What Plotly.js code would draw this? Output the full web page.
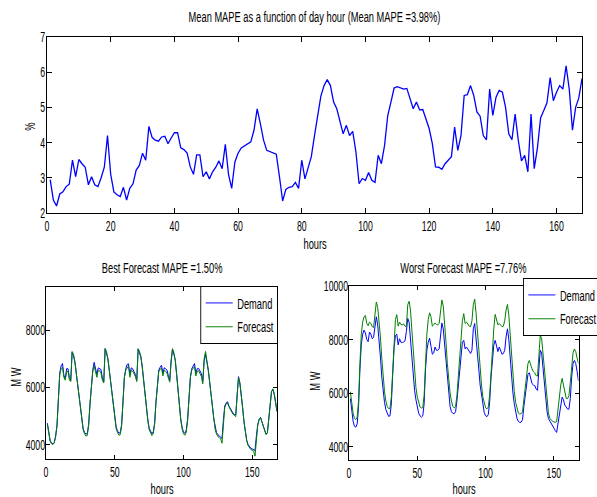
<!DOCTYPE html>
<html>
<head>
<meta charset="utf-8">
<script src="https://cdn.plot.ly/plotly-3.0.1.min.js"></script>
<style>
  html, body { margin: 0; padding: 0; background: #fff; }
  #chart { width: 597px; height: 497px; }
</style>
</head>
<body>
<div id="chart"></div>
<script>
// ---- data ----
const hours = Array.from({ length: 168 }, (_, i) => i + 1);

const meanMape = [
  2.95, 2.37, 2.2, 2.54, 2.6, 2.75, 2.82, 3.5, 3.03, 3.52,
  3.4, 3.3, 2.8, 3.03, 2.8, 2.75, 3.0, 3.3, 4.2, 3.1,
  2.6, 2.52, 2.47, 2.73, 2.37, 2.7, 2.83, 3.22, 3.35, 3.7,
  3.5, 4.46, 4.15, 4.07, 4.04, 4.16, 4.18, 3.97, 4.13, 4.28,
  4.28, 3.85, 3.8, 3.7, 3.31, 3.1, 3.65, 3.65, 3.03, 3.17,
  2.97, 3.17, 3.3, 3.48, 3.26, 3.95, 3.1, 2.7, 3.45, 3.7,
  3.85, 3.9, 3.97, 4.02, 4.35, 4.96, 4.54, 4.07, 3.78, 3.74,
  3.72, 3.67, 3.03, 2.34, 2.67, 2.73, 2.75, 2.87, 2.7, 3.5,
  2.97, 3.26, 3.6, 4.2, 4.77, 5.32, 5.62, 5.79, 5.62, 5.15,
  4.96, 4.63, 4.25, 4.49, 4.2, 4.32, 3.74, 2.83, 2.98, 2.93,
  3.15, 2.93, 2.87, 3.64, 3.4, 3.92, 4.77, 5.15, 5.55, 5.59,
  5.55, 5.52, 5.54, 5.24, 4.96, 5.15, 4.93, 4.94, 4.68, 4.4,
  3.97, 3.31, 3.3, 3.24, 3.4, 3.5, 3.6, 4.44, 3.78, 4.2,
  5.34, 5.36, 5.62, 5.34, 4.87, 4.75, 4.2, 4.08, 5.52, 4.77,
  5.29, 5.48, 5.43, 5.0, 4.25, 4.08, 4.81, 4.06, 3.48, 3.64,
  3.17, 4.81, 3.26, 3.85, 4.7, 4.91, 5.13, 5.85, 5.19, 5.43,
  5.62, 5.52, 6.18, 5.52, 4.35, 5.0, 5.27, 5.82
];

const bestDemand = [
  4750, 4400, 4150, 4050, 4030, 4080, 4300, 4650, 5650, 6500, 6750, 6830, 6420, 6300, 6650, 6650, 6350, 6250, 7230, 7100, 6880, 6500, 6100, 5730,
  5250, 4820, 4560, 4430, 4370, 4390, 4700, 5400, 6100, 6600, 6870, 6600, 6450, 6680, 6660, 6620, 6330, 6200, 7350, 7200, 7000, 6600, 6200, 5850,
  5400, 4950, 4620, 4480, 4400, 4420, 4700, 5500, 6350, 6650, 6800, 6820, 6430, 6680, 6650, 6550, 6450, 6250, 7330, 7200, 7050, 6700, 6200, 5700,
  5250, 4900, 4580, 4440, 4380, 4450, 4750, 5500, 6080, 6600, 6700, 6770, 6485, 6680, 6650, 6600, 6400, 6250, 6900, 7330, 7150, 6950, 6450, 5850,
  5350, 4900, 4600, 4430, 4400, 4500, 4900, 5800, 6350, 6650, 6750, 6830, 6490, 6650, 6660, 6550, 6480, 6200, 6900, 7160, 6900, 6600, 6200, 5850,
  5350, 4900, 4580, 4420, 4350, 4300, 4250, 4220, 4850, 5350, 5450, 5500, 5350, 5250, 5150, 5100, 5050, 5040, 5700, 6370, 6150, 5800, 5300, 4800,
  4400, 4150, 4000, 3920, 3870, 3850, 3830, 3800, 4300, 4700, 4880, 4950, 4800, 4650, 4500, 4370, 4420, 4900, 5400, 5850, 5920, 5750, 5450, 5150
];

const bestForecast = [
  4700, 4350, 4120, 4030, 4000, 4060, 4280, 4700, 5700, 6450, 6650, 6700, 6350, 6250, 6550, 6560, 6250, 6200, 7250, 7150, 6900, 6480, 6050, 5700,
  5200, 4780, 4520, 4380, 4300, 4320, 4650, 5450, 6150, 6550, 6750, 6500, 6350, 6600, 6580, 6500, 6250, 6150, 7350, 7250, 7000, 6600, 6180, 5800,
  5350, 4900, 4570, 4420, 4330, 4350, 4680, 5500, 6350, 6600, 6700, 6750, 6350, 6600, 6570, 6480, 6380, 6200, 7350, 7250, 7080, 6720, 6200, 5680,
  5200, 4850, 4530, 4390, 4320, 4380, 4720, 5500, 6100, 6550, 6620, 6680, 6400, 6600, 6560, 6500, 6320, 6180, 6950, 7350, 7200, 6950, 6450, 5800,
  5300, 4850, 4550, 4380, 4330, 4430, 4850, 5750, 6350, 6600, 6680, 6720, 6400, 6560, 6580, 6460, 6380, 6120, 7000, 7250, 6950, 6620, 6180, 5800,
  5300, 4850, 4530, 4370, 4280, 4250, 4200, 4050, 4800, 5300, 5420, 5460, 5330, 5230, 5120, 5060, 5020, 4980, 5750, 6330, 6150, 5780, 5280, 4780,
  4380, 4120, 3970, 3880, 3830, 3800, 3780, 3600, 4250, 4680, 4880, 4950, 4800, 4640, 4480, 4350, 4400, 4880, 5400, 5850, 5950, 5780, 5480, 5180
];

const worstDemand = [
  5800, 5300, 4950, 4760, 4730, 4850, 5500, 6900, 7800, 8200, 8350, 8250, 8000, 7920, 8280, 8200, 8030, 8080, 8500, 8850, 8550, 8050, 7350, 6600,
  6100, 5650, 5380, 5230, 5130, 5150, 5600, 6700, 7700, 8150, 8200, 7800, 8030, 7900, 7890, 7910, 7950, 8300, 8790, 8650, 8000, 7250, 6600, 6100,
  5750, 5450, 5250, 5150, 5100, 5150, 5600, 6900, 7600, 7900, 8050, 7750, 7450, 7500, 7720, 7600, 7600, 7650, 8300, 8620, 8400, 7800, 7000, 6400,
  5850, 5500, 5300, 5240, 5230, 5300, 5700, 6300, 6800, 7500, 7900, 7970, 7650, 7720, 7650, 7540, 7480, 7600, 8400, 8600, 8100, 7500, 6900, 6300,
  5900, 5500, 5270, 5150, 5120, 5200, 5700, 6600, 7300, 7800, 7970, 7700, 7550, 7720, 7550, 7450, 7480, 7600, 8100, 8400, 8000, 7300, 6600, 6000,
  5600, 5300, 5050, 4940, 4900, 4910, 5000, 5500, 5950, 6400, 6700, 6760, 6500, 6350, 6300, 6280, 6150, 6100, 6900, 7600, 7500, 7000, 6300, 5750,
  5300, 5050, 4950, 4900, 4750, 4650, 4600, 4530, 4900, 5250, 5600, 5850, 5750, 5550, 5480, 5400, 5400, 5800, 6600, 7100, 7220, 7100, 6800, 6450
];

const worstForecast = [
  6050, 5600, 5250, 5050, 5010, 5100, 5700, 7100, 8200, 8650, 8850, 8900, 8600, 8520, 8650, 8600, 8480, 8450, 8900, 9400, 9200, 8750, 8100, 7300,
  6600, 6050, 5700, 5500, 5420, 5430, 5850, 7000, 8100, 8750, 8930, 8500, 8650, 8560, 8550, 8580, 8500, 8480, 9300, 9430, 9100, 8400, 7600, 6800,
  6200, 5850, 5600, 5480, 5440, 5460, 5900, 7100, 8200, 8750, 9000, 8850, 8500, 8550, 8620, 8560, 8550, 8600, 9150, 9480, 9250, 8700, 7900, 7100,
  6500, 6000, 5700, 5500, 5450, 5500, 5900, 6600, 7300, 8100, 8700, 8970, 8600, 8650, 8580, 8500, 8480, 8700, 9300, 9510, 9000, 8300, 7500, 6800,
  6300, 5850, 5600, 5450, 5410, 5480, 5950, 6900, 7700, 8400, 8940, 8700, 8550, 8600, 8520, 8480, 8500, 8700, 9100, 9310, 8900, 8100, 7300, 6600,
  6050, 5650, 5400, 5250, 5220, 5230, 5300, 5800, 6300, 6800, 7100, 7220, 7000, 6900, 6800, 6750, 6650, 6640, 7400, 8150, 8050, 7500, 6800, 6100,
  5600, 5250, 5050, 4980, 4950, 4920, 4910, 4930, 5400, 5900, 6300, 6550, 6300, 6000, 5800, 5790, 5900, 6400, 7000, 7500, 7650, 7550, 7300, 7100
];

const topTitle = 'Mean MAPE as a function of day hour (Mean MAPE =3.98%)';
const bestTitle = 'Best Forecast MAPE =1.50%';
const worstTitle = 'Worst Forecast MAPE =7.76%';
const seriesNames = ['Demand', 'Forecast'];

// ---- styling ----
const FONT = 'Liberation Sans, Arial, sans-serif';
const FS = 14.5;
const BLUE = '#0000ff';
const GREEN = '#008000';

function axisBase(extra) {
  return Object.assign({
    showline: true, linecolor: '#000', linewidth: 1, mirror: 'ticks',
    ticks: 'inside', ticklen: 5, tickcolor: '#000', tickwidth: 1,
    showgrid: false, zeroline: false, tickformat: 'd',
    tickfont: { family: FONT, size: FS, color: '#000' }
  }, extra);
}

const traces = [
  { x: hours, y: meanMape, type: 'scatter', mode: 'lines', xaxis: 'x', yaxis: 'y',
    line: { color: BLUE, width: 1.3 }, showlegend: false },
  { x: hours, y: bestDemand, type: 'scatter', mode: 'lines', xaxis: 'x2', yaxis: 'y2',
    name: seriesNames[0], line: { color: BLUE, width: 1 }, legend: 'legend', legendgroup: 'a' },
  { x: hours, y: bestForecast, type: 'scatter', mode: 'lines', xaxis: 'x2', yaxis: 'y2',
    name: seriesNames[1], line: { color: GREEN, width: 1 }, legend: 'legend', legendgroup: 'b' },
  { x: hours, y: worstDemand, type: 'scatter', mode: 'lines', xaxis: 'x3', yaxis: 'y3',
    name: seriesNames[0], line: { color: BLUE, width: 1 }, legend: 'legend2', legendgroup: 'c' },
  { x: hours, y: worstForecast, type: 'scatter', mode: 'lines', xaxis: 'x3', yaxis: 'y3',
    name: seriesNames[1], line: { color: GREEN, width: 1 }, legend: 'legend2', legendgroup: 'd' }
];

const W = 597, H = 497;
const px = v => v / W;
const py = v => 1 - v / H;

function ann(text, x, y, opts) {
  return Object.assign({
    text: text, xref: 'paper', yref: 'paper', x: px(x), y: py(y),
    xanchor: 'center', yanchor: 'middle', showarrow: false,
    font: { family: FONT, size: FS, color: '#000' }
  }, opts || {});
}

const legendBase = {
  bgcolor: '#fff', bordercolor: '#000', borderwidth: 1,
  font: { family: FONT, size: FS, color: '#000' },
  traceorder: 'grouped', tracegroupgap: 2, yanchor: 'top'
};

const layout = {
  width: W, height: H,
  margin: { l: 0, r: 0, t: 0, b: 0, autoexpand: false },
  paper_bgcolor: '#fff', plot_bgcolor: '#fff',
  showlegend: true,
  xaxis: axisBase({ domain: [px(47), px(582)], anchor: 'y', range: [0, 168], tick0: 0, dtick: 20 }),
  yaxis: axisBase({ domain: [py(213), py(37)], anchor: 'x', range: [2, 7], dtick: 1, ticklabelstandoff: -2 }),
  xaxis2: axisBase({ domain: [px(46), px(277)], anchor: 'y2', range: [0, 168], tick0: 0, dtick: 50, ticklen: 4 }),
  yaxis2: axisBase({ domain: [py(459), py(287)], anchor: 'x2', range: [3500, 9500], tickvals: [4000, 6000, 8000], ticklen: 4, ticklabelstandoff: -3 }),
  xaxis3: axisBase({ domain: [px(349), px(578.5)], anchor: 'y3', range: [0, 168], tick0: 0, dtick: 50, ticklen: 4 }),
  yaxis3: axisBase({ domain: [py(460), py(286)], anchor: 'x3', range: [3500, 10000], tickvals: [4000, 6000, 8000, 10000], ticklen: 4, ticklabelstandoff: -3 }),
  legend: Object.assign({}, legendBase, { x: px(277), xanchor: 'right', y: py(286) }),
  legend2: Object.assign({}, legendBase, { x: px(523), xanchor: 'left', y: py(278) }),
  annotations: [
    ann(topTitle, 314, 17),
    ann('hours', 314.5, 244),
    ann('%', 30, 127, { textangle: -90 }),
    ann(bestTitle, 161.5, 268),
    ann(worstTitle, 463.8, 268),
    ann('M W', 16, 377, { textangle: -90 }),
    ann('M W', 315, 381, { textangle: -90 }),
    ann('hours', 161.5, 489),
    ann('hours', 463.8, 489)
  ]
};

// horizontally condense a text element about its own anchor point (the reference uses a narrow face)
function squeeze(el, s) {
  const x = parseFloat(el.getAttribute('x')) || 0;
  const t = el.getAttribute('transform') || '';
  el.setAttribute('transform', t + ' translate(' + x + ',0) scale(' + s + ',1) translate(' + (-x) + ',0)');
}

Plotly.newPlot('chart', traces, layout, { staticPlot: true, displayModeBar: false }).then(gd => {
  const legendGroups = Array.from(gd.querySelectorAll('g.legend, g.legend2, g[class^="legend"]'))
    .filter(g => g.querySelector(':scope > rect.bg'));
  const inLegend = el => legendGroups.some(g => g.contains(el));

  const texts = Array.from(gd.querySelectorAll('svg text'));
  const titleEl = texts.find(t => t.textContent === topTitle);
  const f = titleEl ? Math.min(1, 252 / titleEl.getComputedTextLength()) : 0.69;

  texts.forEach(t => {
    if (inLegend(t)) return;
    const isTick = t.closest('[class*="tick"]');
    squeeze(t, isTick ? f * 0.94 : f);
  });

  // legends: condense the whole box, then the text to the same overall width as other texts
  const G = 0.9;
  legendGroups.forEach(lg => {
    const m = /translate\(\s*([-\d.]+)[ ,]+([-\d.]+)\s*\)/.exec(lg.getAttribute('transform') || '');
    const tx0 = m ? parseFloat(m[1]) : 0;
    const ty = m ? parseFloat(m[2]) : 0;
    const isRight = tx0 > 400;
    const ltexts = Array.from(lg.querySelectorAll('text'));
    let maxW = 0;
    ltexts.forEach(t => {
      maxW = Math.max(maxW, t.getComputedTextLength() * f / G);
      squeeze(t, f / G);
    });
    const bg = lg.querySelector(':scope > rect.bg');
    const newW = 40 + maxW + 5;
    if (bg) bg.setAttribute('width', newW);
    const tx = isRight ? 523 : 277 - newW * G;
    lg.setAttribute('transform', 'translate(' + tx + ',' + ty + ') scale(' + G + ',1)');
  });
});
</script>
</body>
</html>
